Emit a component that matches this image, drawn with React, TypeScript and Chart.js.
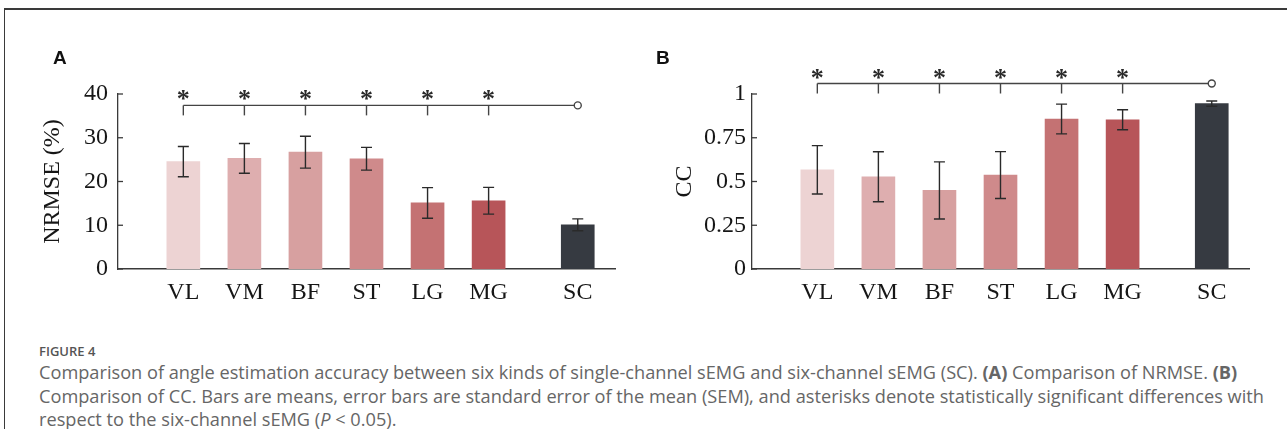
import React, { useEffect, useRef } from "react";
import { Chart, registerables } from "chart.js";
Chart.register(...registerables);

// ---------- data ----------
const categories = ["VL", "VM", "BF", "ST", "LG", "MG", "SC"];
const xPositions = [1, 2, 3, 4, 5, 6, 7.46];
const barColors = ["#EDD3D3", "#DEAEAF", "#D7A0A0", "#CF8A8B", "#C47273", "#B75559", "#363A41"];

const nrmseMean = [24.55, 25.3, 26.7, 25.2, 15.1, 15.6, 10.1];
const nrmseSem = [3.45, 3.4, 3.65, 2.6, 3.5, 3.05, 1.35];
const nrmseTicks = [0, 10, 20, 30, 40];
const nrmseTickLabels = ["0", "10", "20", "30", "40"];
const nrmseBracket = 37.4;

const ccMean = [0.567, 0.527, 0.449, 0.537, 0.857, 0.853, 0.945];
const ccSem = [0.138, 0.143, 0.163, 0.134, 0.085, 0.057, 0.015];
const ccTicks = [0, 0.25, 0.5, 0.75, 1];
const ccTickLabels = ["0", "0.25", "0.5", "0.75", "1"];
const ccBracket = 1.06;

// significance of each single-channel vs SC (index 6)
const significant = [true, true, true, true, true, true];

const SERIF = '"Liberation Serif", "Times New Roman", serif';
const INK = "#161616";
const LINE = "#3a3a3a";

type PanelProps = {
  left: number;
  top: number;
  width: number;
  height: number;
  area: { left: number; right: number; top: number; bottom: number };
  values: number[];
  errors: number[];
  ticks: number[];
  tickLabels: string[];
  yMax: number;
  title: string;
  titleCenter: number;
  tickPad: number;
  bracket: number;
};

function Panel(p: PanelProps) {
  const ref = useRef<HTMLCanvasElement>(null);
  useEffect(() => {
    if (!ref.current) return;
    const errorBars = {
      id: "errorBars",
      afterDatasetsDraw(chart: any) {
        const { ctx, scales } = chart;
        const xs = scales.x, ys = scales.y;
        ctx.save();
        ctx.strokeStyle = "#2a2a2a";
        ctx.lineWidth = 1.4;
        p.values.forEach((v, i) => {
          const x = xs.getPixelForValue(xPositions[i]);
          const yt = ys.getPixelForValue(v + p.errors[i]);
          const yb = ys.getPixelForValue(v - p.errors[i]);
          ctx.beginPath();
          ctx.moveTo(x, yt); ctx.lineTo(x, yb);
          ctx.moveTo(x - 5.5, yt); ctx.lineTo(x + 5.5, yt);
          ctx.moveTo(x - 5.5, yb); ctx.lineTo(x + 5.5, yb);
          ctx.stroke();
        });
        ctx.restore();
      },
      afterDraw(chart: any) {
        const { ctx, scales, chartArea } = chart;
        const xs = scales.x, ys = scales.y;
        ctx.save();
        // inward y ticks
        ctx.strokeStyle = LINE;
        ctx.lineWidth = 1.3;
        p.ticks.forEach((t) => {
          const y = ys.getPixelForValue(t);
          ctx.beginPath();
          ctx.moveTo(chartArea.left, y);
          ctx.lineTo(chartArea.left + 5, y);
          ctx.stroke();
        });
        // significance bracket
        const ly = ys.getPixelForValue(p.bracket);
        const xRef = xs.getPixelForValue(xPositions[6]);
        const x0 = xs.getPixelForValue(xPositions[0]);
        const r = 3.5;
        ctx.strokeStyle = "#444";
        ctx.lineWidth = 1.4;
        ctx.beginPath();
        ctx.moveTo(x0, ly);
        ctx.lineTo(xRef - r, ly);
        ctx.stroke();
        ctx.fillStyle = "#2a2a2a";
        ctx.font = `bold 26px ${SERIF}`;
        ctx.textAlign = "center";
        ctx.textBaseline = "alphabetic";
        significant.forEach((s, i) => {
          if (!s) return;
          const x = xs.getPixelForValue(xPositions[i]);
          ctx.beginPath();
          ctx.moveTo(x, ly);
          ctx.lineTo(x, ly + 10);
          ctx.stroke();
          ctx.fillText("*", x, ly + 2);
        });
        ctx.beginPath();
        ctx.arc(xRef, ly, r, 0, Math.PI * 2);
        ctx.fillStyle = "#fff";
        ctx.fill();
        ctx.stroke();
        ctx.restore();
      },
    };

    const chart = new Chart(ref.current, {
      type: "bar",
      data: {
        datasets: [
          {
            data: xPositions.map((x, i) => ({ x, y: p.values[i] })) as any,
            backgroundColor: barColors,
            borderWidth: 0,
            barThickness: 33,
          },
        ],
      },
      options: {
        animation: false,
        responsive: false,
        maintainAspectRatio: false,
        layout: { padding: { left: 0, top: p.area.top, right: p.width - p.area.right, bottom: 0 } },
        plugins: { legend: { display: false }, tooltip: { enabled: false } },
        scales: {
          x: {
            type: "linear",
            min: -0.07,
            max: 8.07,
            offset: false,
            grid: { display: false, drawTicks: false },
            border: { display: true, color: LINE, width: 1.4 },
            afterBuildTicks: (s: any) => {
              s.ticks = xPositions.map((v) => ({ value: v }));
            },
            afterFit: (s: any) => {
              s.height = p.height - p.area.bottom;
            },
            ticks: {
              autoSkip: false,
              maxRotation: 0,
              padding: 9,
              color: INK,
              font: { family: SERIF, size: 24 },
              callback: (_v: any, i: number) => categories[i],
            },
          } as any,
          y: {
            min: 0,
            max: p.yMax,
            grid: { display: false, drawTicks: false },
            border: { display: true, color: LINE, width: 1.3 },
            afterBuildTicks: (s: any) => {
              s.ticks = p.ticks.map((v) => ({ value: v }));
            },
            afterFit: (s: any) => {
              s.width = p.area.left;
            },
            ticks: {
              padding: p.tickPad,
              color: INK,
              font: { family: SERIF, size: 24 },
              callback: (_v: any, i: number) => p.tickLabels[i],
            },
            title: {
              display: true,
              text: p.title,
              color: INK,
              font: { family: SERIF, size: 24 },
              padding: { top: p.titleCenter - 14.4, bottom: 0 },
            },
          } as any,
        },
      },
      plugins: [errorBars],
    });
    return () => chart.destroy();
  }, []);
  return (
    <canvas
      ref={ref}
      width={p.width}
      height={p.height}
      style={{ position: "absolute", left: p.left, top: p.top, width: p.width, height: p.height }}
    />
  );
}

const captionFont = '"Open Sans", Lato, sans-serif';

export default function App() {
  return (
    <div style={{ position: "fixed", left: 0, top: 0, width: 1287, height: 429, background: "#fff", overflow: "hidden" }}>
      <div
        style={{
          position: "absolute",
          left: 4,
          top: 8,
          width: 1400,
          height: 500,
          borderTop: "2px solid #3a3a3a",
          borderLeft: "1.5px solid #3a3a3a",
        }}
      />
      <Panel
        left={0}
        top={0}
        width={640}
        height={320}
        area={{ left: 118, right: 615, top: 94, bottom: 269 }}
        values={nrmseMean}
        errors={nrmseSem}
        ticks={nrmseTicks}
        tickLabels={nrmseTickLabels}
        yMax={40}
        title="NRMSE (%)"
        titleCenter={53}
        tickPad={10}
        bracket={nrmseBracket}
      />
      <Panel
        left={640}
        top={0}
        width={647}
        height={320}
        area={{ left: 112, right: 609, top: 94, bottom: 269 }}
        values={ccMean}
        errors={ccSem}
        ticks={ccTicks}
        tickLabels={ccTickLabels}
        yMax={1}
        title="CC"
        titleCenter={45}
        tickPad={6}
        bracket={ccBracket}
      />
      <div style={{ position: "absolute", left: 53, top: 47, font: 'bold 19px "Liberation Sans", Arial, sans-serif', color: "#111" }}>A</div>
      <div style={{ position: "absolute", left: 656, top: 47, font: 'bold 19px "Liberation Sans", Arial, sans-serif', color: "#111" }}>B</div>
      <div
        style={{
          position: "absolute",
          left: 39,
          top: 342,
          fontFamily: captionFont,
          fontSize: 13,
          fontWeight: 600,
          color: "#555",
        }}
      >
        FIGURE 4
      </div>
      <div
        style={{
          position: "absolute",
          left: 39,
          top: 361,
          fontFamily: captionFont,
          fontSize: 18.2,
          lineHeight: "23.5px",
          color: "#666",
          whiteSpace: "nowrap",
        }}
      >
        <div>
          Comparison of angle estimation accuracy between six kinds of single-channel sEMG and six-channel sEMG (SC). <b>(A)</b> Comparison of NRMSE. <b>(B)</b>
        </div>
        <div>
          Comparison of CC. Bars are means, error bars are standard error of the mean (SEM), and asterisks denote statistically significant differences with
        </div>
        <div>
          respect to the six-channel sEMG (<i>P</i> &lt; 0.05).
        </div>
      </div>
    </div>
  );
}
